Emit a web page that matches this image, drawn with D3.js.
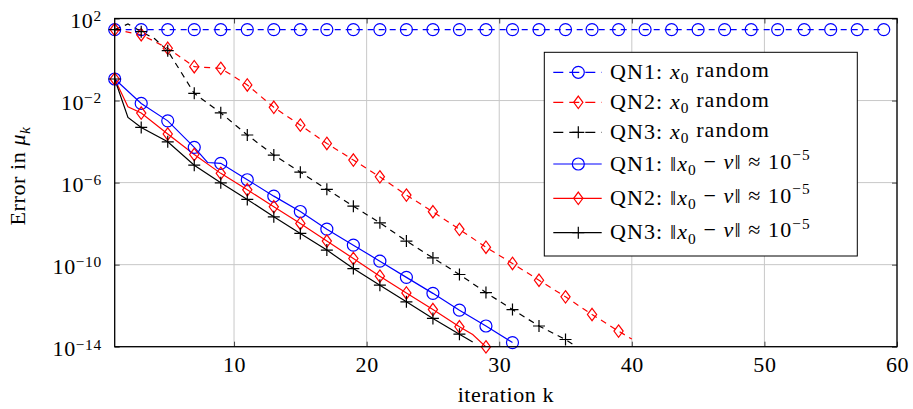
<!DOCTYPE html>
<html>
<head>
<meta charset="utf-8">
<script src="https://cdn.jsdelivr.net/npm/d3@7/dist/d3.min.js"></script>
<style>
  html, body { margin: 0; padding: 0; background: #fff; }
  svg { display: block; }
  text { font-family: "Liberation Serif", "DejaVu Serif", serif; fill: #000; letter-spacing: 0.6px; }
  .legend-text { letter-spacing: 1.1px; }
</style>
</head>
<body>
<svg id="chart" width="913" height="409"></svg>
<script>
// Iteration indices and errors (log10 of error in mu_k) for each run
const iterQN1rand = [1,3,5,7,9,11,13,15,17,19,21,23,25,27,29,31,33,35,37,39,41,43,45,47,49,51,53,55,57,59];
const logErrQN1rand = [1.46,1.46,1.46,1.46,1.46,1.46,1.46,1.46,1.46,1.46,1.46,1.46,1.46,1.46,1.46,1.46,1.46,1.46,1.46,1.46,1.46,1.46,1.46,1.46,1.46,1.46,1.46,1.46,1.46,1.46];

const iterQN2rand = [1,3,5,7,9,11,13,15,17,19,21,23,25,27,29,31,33,35,37,39,40];
const logErrQN2rand = [1.46,1.21,0.55,-0.35,-0.43,-1.24,-2.33,-3.20,-4.09,-4.90,-5.72,-6.61,-7.42,-8.28,-9.15,-9.94,-10.76,-11.57,-12.43,-13.24,-13.63];

const iterQN3rand = [1,2,3,4,5,7,9,11,13,15,17,19,21,23,25,27,29,31,33,35,36];
const logErrQN3rand = [1.46,1.73,1.36,1.02,0.43,-1.65,-2.60,-3.68,-4.66,-5.49,-6.33,-7.15,-7.96,-8.85,-9.67,-10.48,-11.36,-12.19,-12.99,-13.65,-14.07];

const iterQN1near = [1,3,5,7,8,9,11,13,15,17,19,21,23,25,27,29,31];
const logErrQN1near = [-0.95,-2.14,-2.99,-4.28,-5.02,-5.06,-5.86,-6.66,-7.41,-8.27,-9.05,-9.83,-10.62,-11.40,-12.22,-12.99,-13.80];

const iterQN2near = [1,2,3,5,7,9,11,13,15,17,19,21,23,25,27,28,29];
const logErrQN2near = [-0.95,-2.30,-2.61,-3.63,-4.63,-5.55,-6.35,-7.18,-7.99,-8.85,-9.70,-10.56,-11.38,-12.19,-13.03,-13.41,-14.01];

const iterQN3near = [1,2,3,5,7,9,11,13,15,17,19,21,23,25,27,28];
const logErrQN3near = [-0.95,-2.82,-3.31,-4.01,-5.15,-6.01,-6.82,-7.67,-8.48,-9.29,-10.19,-11.00,-11.81,-12.62,-13.39,-13.77];

const xTicks = [10, 20, 30, 40, 50, 60];
const yTickExponents = [2, -2, -6, -10, -14];

const seriesList = [
  { name: "QN1", iters: iterQN1rand, logs: logErrQN1rand, color: "#0000ff", dashed: true,  marker: "circle",  tail: "random" },
  { name: "QN2", iters: iterQN2rand, logs: logErrQN2rand, color: "#ff0000", dashed: true,  marker: "diamond", tail: "random" },
  { name: "QN3", iters: iterQN3rand, logs: logErrQN3rand, color: "#000000", dashed: true,  marker: "plus",    tail: "random" },
  { name: "QN1", iters: iterQN1near, logs: logErrQN1near, color: "#0000ff", dashed: false, marker: "circle",  tail: "near" },
  { name: "QN2", iters: iterQN2near, logs: logErrQN2near, color: "#ff0000", dashed: false, marker: "diamond", tail: "near" },
  { name: "QN3", iters: iterQN3near, logs: logErrQN3near, color: "#000000", dashed: false, marker: "plus",    tail: "near" }
];

const svg = d3.select("#chart");
const plot = { left: 114.7, right: 897, top: 18.5, bottom: 346.7 };

const x = d3.scaleLinear().domain([1, 60]).range([plot.left, plot.right]);
const y = d3.scaleLog().domain([1e-14, 1e2]).range([plot.bottom, plot.top]);

svg.append("defs").append("clipPath").attr("id", "plotClip")
  .append("rect")
  .attr("x", plot.left).attr("y", plot.top)
  .attr("width", plot.right - plot.left).attr("height", plot.bottom - plot.top);

// grid
const grid = svg.append("g");
grid.selectAll("line.gx").data(xTicks).join("line")
  .attr("x1", d => x(d)).attr("x2", d => x(d))
  .attr("y1", plot.top).attr("y2", plot.bottom)
  .attr("stroke", "#c8c8c8").attr("stroke-width", 1);
grid.selectAll("line.gy").data(yTickExponents).join("line")
  .attr("x1", plot.left).attr("x2", plot.right)
  .attr("y1", d => y(Math.pow(10, d))).attr("y2", d => y(Math.pow(10, d)))
  .attr("stroke", "#c8c8c8").attr("stroke-width", 1);

// axes with inward ticks
const fontSize = 22;
const supSize = fontSize * 0.7;
const xAxis = d3.axisBottom(x).tickValues(xTicks).tickSizeInner(-5).tickSizeOuter(0).tickPadding(10)
  .tickFormat(d3.format("d"));
const gx = svg.append("g").attr("transform", `translate(0,${plot.bottom})`).call(xAxis);
gx.select(".domain").remove();
gx.selectAll(".tick line").attr("stroke", "#444");
gx.selectAll(".tick text").attr("font-size", fontSize).attr("font-family", "Liberation Serif, serif").attr("fill", "#000");

const xAxisTop = d3.axisTop(x).tickValues(xTicks).tickSizeInner(-5).tickSizeOuter(0).tickFormat("");
const gxt = svg.append("g").attr("transform", `translate(0,${plot.top})`).call(xAxisTop);
gxt.select(".domain").remove();
gxt.selectAll(".tick line").attr("stroke", "#444");

const yVals = yTickExponents.map(e => Math.pow(10, e));
const yAxis = d3.axisLeft(y).tickValues(yVals).tickSizeInner(-5).tickSizeOuter(0).tickPadding(14).tickFormat("");
const gy = svg.append("g").attr("transform", `translate(${plot.left},0)`).call(yAxis);
gy.select(".domain").remove();
gy.selectAll(".tick line").attr("stroke", "#444");
gy.selectAll(".tick text").each(function(d) {
  const t = d3.select(this)
    .attr("font-size", fontSize).attr("fill", "#000")
    .attr("font-family", "Liberation Serif, serif")
    .attr("dy", "0.42em").attr("x", -13);
  const e = Math.round(Math.log10(d));
  t.append("tspan").text("10");
  t.append("tspan").attr("dy", "-0.45em").attr("font-size", supSize)
    .text(e < 0 ? "\u2212" + (-e) : String(e));
});

const yAxisRight = d3.axisRight(y).tickValues(yVals).tickSizeInner(-5).tickSizeOuter(0).tickFormat("");
const gyr = svg.append("g").attr("transform", `translate(${plot.right},0)`).call(yAxisRight);
gyr.select(".domain").remove();
gyr.selectAll(".tick line").attr("stroke", "#444");

// marker shapes
function drawMarker(g, type, cx, cy, color) {
  if (type === "circle") {
    g.append("circle").attr("cx", cx).attr("cy", cy).attr("r", 6)
      .attr("fill", "none").attr("stroke", color).attr("stroke-width", 1.2);
  } else if (type === "diamond") {
    const hw = 4.6, hh = 6.2;
    g.append("path")
      .attr("d", `M${cx},${cy - hh}L${cx + hw},${cy}L${cx},${cy + hh}L${cx - hw},${cy}Z`)
      .attr("fill", "none").attr("stroke", color).attr("stroke-width", 1.2);
  } else {
    const a = 6;
    g.append("path")
      .attr("d", `M${cx - a},${cy}H${cx + a}M${cx},${cy - a}V${cy + a}`)
      .attr("fill", "none").attr("stroke", color).attr("stroke-width", 1.2);
  }
}

const line = d3.line().x(d => x(d.k)).y(d => y(Math.pow(10, d.v)));

const dataLayer = svg.append("g");
seriesList.forEach(s => {
  const pts = s.iters.map((k, i) => ({ k, v: s.logs[i] }));
  dataLayer.append("path").datum(pts)
    .attr("clip-path", "url(#plotClip)")
    .attr("d", line)
    .attr("fill", "none").attr("stroke", s.color).attr("stroke-width", 1.2)
    .attr("stroke-dasharray", s.dashed ? "6,5" : null);
});
seriesList.forEach(s => {
  const g = dataLayer.append("g");
  s.iters.forEach((k, i) => {
    if (k % 2 === 1) drawMarker(g, s.marker, x(k), y(Math.pow(10, s.logs[i])), s.color);
  });
});

// frame
svg.append("rect")
  .attr("x", plot.left).attr("y", plot.top)
  .attr("width", plot.right - plot.left).attr("height", plot.bottom - plot.top)
  .attr("fill", "none").attr("stroke", "#000").attr("stroke-width", 1.3);

// axis titles
svg.append("text").attr("x", (plot.left + plot.right) / 2).attr("y", 402)
  .attr("text-anchor", "middle").attr("font-size", fontSize).text("iteration k");

const yl = svg.append("text")
  .attr("transform", `translate(25,176) rotate(-90)`)
  .attr("text-anchor", "middle").attr("font-size", fontSize);
yl.append("tspan").text("Error in ");
yl.append("tspan").attr("font-style", "italic").text("\u03bc");
yl.append("tspan").attr("font-style", "italic").attr("font-size", supSize).attr("dy", "0.3em").text("k");

// legend
const legend = { x: 544.3, y: 52.3, w: 313, h: 203.7 };
const lg = svg.append("g");
lg.append("rect").attr("x", legend.x).attr("y", legend.y).attr("width", legend.w).attr("height", legend.h)
  .attr("fill", "#fff").attr("stroke", "#000").attr("stroke-width", 1);
const rowY = [72.3, 102.3, 132.3, 164, 198.3, 232.7];
seriesList.forEach((s, i) => {
  const cy = rowY[i];
  lg.append("line").attr("x1", 553.3).attr("x2", 601.7).attr("y1", cy).attr("y2", cy)
    .attr("stroke", s.color).attr("stroke-width", 1.2)
    .attr("stroke-dasharray", s.dashed ? "10,6" : null);
  drawMarker(lg, s.marker, 578.3, cy, s.color);
  const t = lg.append("text").attr("class", "legend-text")
    .attr("x", 610).attr("y", cy + 6.5).attr("font-size", fontSize);
  t.append("tspan").text(s.name + ":  ");
  if (s.tail === "random") {
    t.append("tspan").attr("font-style", "italic").text("x");
    t.append("tspan").attr("font-size", supSize).attr("dy", "0.3em").text("0");
    t.append("tspan").attr("dy", "-0.3em").text("  random");
  } else {
    t.append("tspan").text("\u2016");
    t.append("tspan").attr("font-style", "italic").text("x");
    t.append("tspan").attr("font-size", supSize).attr("dy", "0.3em").text("0");
    t.append("tspan").attr("dy", "-0.3em").text(" \u2212 ");
    t.append("tspan").attr("font-style", "italic").text("v");
    t.append("tspan").text("\u2016 \u2248 10");
    t.append("tspan").attr("font-size", supSize).attr("dy", "-0.55em").text("\u22125");
  }
});
</script>
</body>
</html>
